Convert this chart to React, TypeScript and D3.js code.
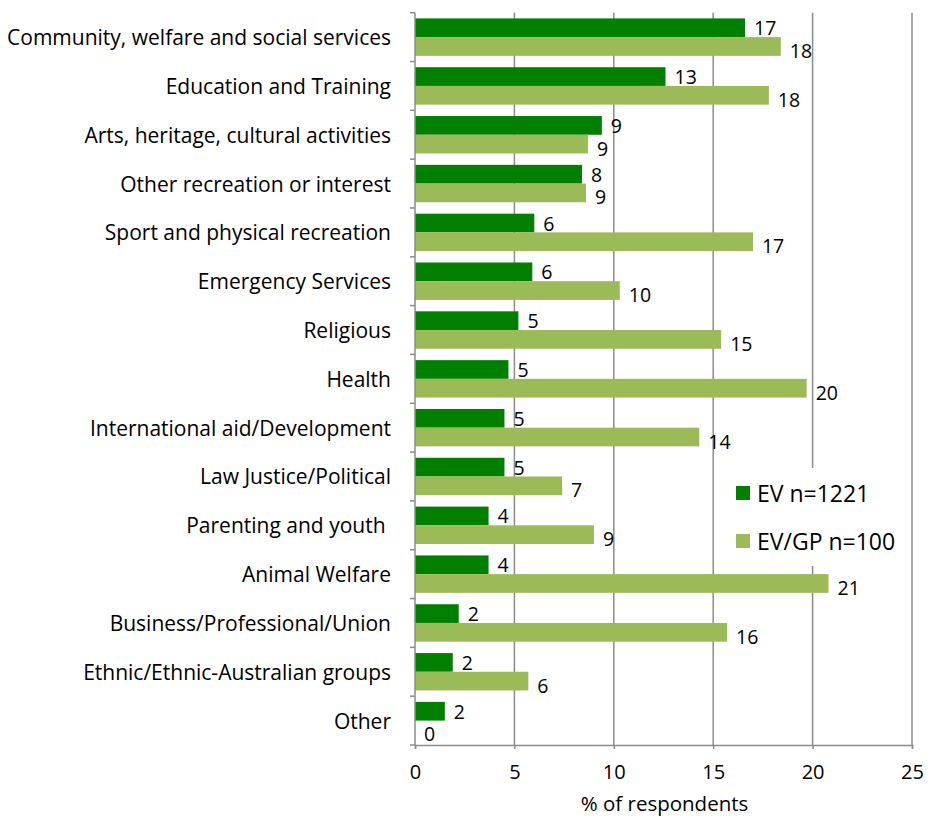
import { useEffect, useRef } from "react";
import { axisBottom, scaleBand, scaleLinear, select } from "d3";

const categories = [
  "Community, welfare and social services",
  "Education and Training",
  "Arts, heritage, cultural activities",
  "Other recreation or interest",
  "Sport and physical recreation",
  "Emergency Services",
  "Religious",
  "Health",
  "International aid/Development",
  "Law Justice/Political",
  "Parenting and youth ",
  "Animal Welfare",
  "Business/Professional/Union",
  "Ethnic/Ethnic-Australian groups",
  "Other",
];

const evValues = [16.6, 12.6, 9.4, 8.4, 6.0, 5.9, 5.2, 4.7, 4.5, 4.5, 3.7, 3.7, 2.2, 1.9, 1.5];
const gpValues = [18.4, 17.8, 8.7, 8.6, 17.0, 10.3, 15.4, 19.7, 14.3, 7.4, 9.0, 20.8, 15.7, 5.7, 0];

const seriesNames = ["EV n=1221", "EV/GP n=100"];
const seriesColors = ["#007f00", "#9bbb59"];
const xTicks = [0, 5, 10, 15, 20, 25];

const FONT = "'Open Sans', sans-serif";
const GRID = "#8c8c8c";

function XAxis({ scale, y }: { scale: any; y: number }) {
  const ref = useRef<SVGGElement>(null);
  useEffect(() => {
    if (!ref.current) return;
    const g = select(ref.current);
    g.call(axisBottom(scale).tickValues(xTicks).tickSize(4).tickPadding(16));
    g.select(".domain").attr("stroke", GRID).attr("stroke-width", 1.5);
    g.selectAll(".tick line").attr("stroke", GRID).attr("stroke-width", 1.5);
    g.selectAll(".tick text")
      .attr("font-family", FONT)
      .attr("font-size", 20)
      .attr("fill", "#000");
  }, [scale]);
  return <g ref={ref} transform={`translate(0, ${y})`} />;
}

export default function App() {
  const left = 415;
  const right = 912;
  const top = 12.7;
  const bottom = 745;

  const x = scaleLinear().domain([0, 25]).range([left, right]);
  const y = scaleBand().domain(categories).range([top, bottom]).padding(0);
  const sub = scaleBand()
    .domain(["ev", "gp"])
    .range([0, y.bandwidth()])
    .paddingInner(0)
    .paddingOuter(0.305);

  const rows = categories.map((c, i) => ({ c, ev: evValues[i], gp: gpValues[i] }));

  return (
    <svg
      width={931}
      height={818}
      style={{ position: "absolute", left: 0, top: 0, background: "#fff" }}
    >
      {/* gridlines */}
      {xTicks.slice(1).map((t) => (
        <line key={`g-${t}`} x1={x(t)} x2={x(t)} y1={top} y2={bottom} stroke={GRID} strokeWidth={1.5} />
      ))}

      {/* bars */}
      {rows.map((r) => (
        <g key={r.c} transform={`translate(0, ${y(r.c)})`}>
          {(["ev", "gp"] as const).map((k, j) => (
            <g key={k}>
              <rect
                x={x(0)}
                y={sub(k)}
                width={x(r[k]) - x(0)}
                height={sub.bandwidth()}
                fill={seriesColors[j]}
              />
              <text
                x={x(r[k]) + 9}
                y={(sub(k) ?? 0) + sub.bandwidth() / 2 + (j === 0 ? 0 : 4)}
                dominantBaseline="central"
                fontFamily={FONT}
                fontSize={19.5}
                fill="#000"
              >
                {Math.round(r[k])}
              </text>
            </g>
          ))}
        </g>
      ))}

      {/* category axis */}
      <line x1={left} x2={left} y1={top} y2={bottom} stroke={GRID} strokeWidth={1.5} />
      {categories.map((c, i) => (
        <line key={`t-${i}`} x1={left - 5} x2={left} y1={y(c)} y2={y(c)} stroke={GRID} strokeWidth={1.5} />
      ))}
      <line x1={left - 5} x2={left} y1={bottom} y2={bottom} stroke={GRID} strokeWidth={1.5} />
      {categories.map((c) => (
        <text
          key={`l-${c}`}
          x={391}
          y={(y(c) ?? 0) + y.bandwidth() / 2}
          textAnchor="end"
          dominantBaseline="central"
          fontFamily={FONT}
          fontSize={21}
          fill="#000"
          style={{ whiteSpace: "pre" }}
        >
          {c}
        </text>
      ))}

      <XAxis scale={x} y={bottom} />
      <text x={(left + right) / 2 + 1} y={803} textAnchor="middle" dominantBaseline="central" fontFamily={FONT} fontSize={20.5}>
        % of respondents
      </text>

      {/* legend */}
      <rect x={728} y={468} width={180} height={98} fill="#fff" />
      {seriesNames.map((s, i) => (
        <g key={s} transform={`translate(736, ${486 + i * 48})`}>
          <rect width={14} height={14} fill={seriesColors[i]} />
          <text x={21} y={7} dominantBaseline="central" fontFamily={FONT} fontSize={23} fill="#000">
            {s}
          </text>
        </g>
      ))}
    </svg>
  );
}
